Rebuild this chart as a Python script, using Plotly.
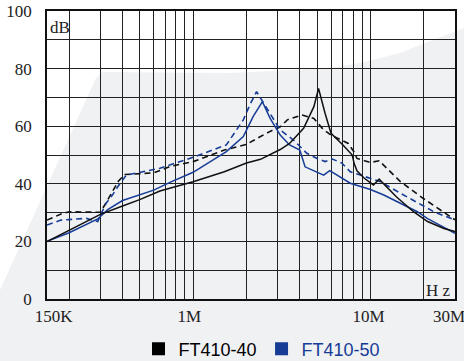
import math
import plotly.graph_objects as go

# ---------------- data ----------------
f40_solid = [150e3, 200e3, 300e3, 400e3, 500e3, 650e3, 1e6, 1.5e6, 2e6, 2.4e6, 2.7e6, 3.1e6,
             3.5e6, 4.2e6, 4.8e6, 5.1e6, 5.55e6, 6e6, 7e6, 7.9e6, 8.1e6, 8.4e6, 9.2e6, 10.4e6,
             11.2e6, 14e6, 17.5e6, 21e6, 26e6, 30e6]
db40_solid = [19.9, 23.8, 29.4, 32.3, 34.5, 37.5, 40.7, 44.2, 47.2, 48.5, 50.0, 51.9,
              54.0, 59.3, 66.8, 73.1, 64.5, 57.5, 53.5, 50.0, 47.0, 44.5, 42.0, 39.6,
              41.6, 35.5, 30.3, 26.9, 24.5, 23.4]

f40_dash = [150e3, 180e3, 200e3, 300e3, 320e3, 353e3, 380e3, 410e3, 500e3, 600e3, 740e3, 1e6,
            1.5e6, 2e6, 2.4e6, 2.7e6, 3.1e6, 3.4e6, 4.1e6, 4.8e6, 5.4e6, 6e6, 7.5e6, 8.1e6,
            8.4e6, 10e6, 11.2e6, 14.8e6, 20e6, 28.4e6, 30e6]
db40_dash = [27.4, 29.5, 30.3, 30.1, 33.0, 37.8, 41.0, 43.2, 43.6, 43.8, 46.0, 47.7,
             51.7, 53.7, 56.4, 58.1, 59.8, 62.2, 63.9, 62.7, 59.0, 56.9, 54.0, 51.0,
             48.8, 47.4, 48.0, 40.7, 34.8, 28.6, 27.5]

f50_solid = [150e3, 200e3, 290e3, 300e3, 330e3, 400e3, 600e3, 740e3, 1e6, 1.54e6, 1.92e6,
             2.18e6, 2.46e6, 2.72e6, 3.1e6, 3.5e6, 4e6, 4.28e6, 5e6, 5.45e6, 5.9e6, 6.3e6,
             7.7e6, 10e6, 11.9e6, 18.4e6, 20.9e6, 26e6, 30e6]
db50_solid = [20.0, 23.0, 27.8, 28.6, 31.0, 34.2, 37.8, 40.5, 44.0, 51.2, 56.4,
              63.3, 68.5, 62.7, 56.9, 53.5, 51.7, 45.9, 44.2, 43.0, 44.6, 43.5,
              40.2, 38.0, 36.1, 30.3, 28.0, 24.9, 22.8]

f50_dash = [150e3, 180e3, 250e3, 290e3, 300e3, 323e3, 350e3, 376e3, 420e3, 500e3, 650e3, 1e6,
            1.54e6, 1.92e6, 2.09e6, 2.28e6, 2.5e6, 2.72e6, 3.1e6, 3.68e6, 4.38e6, 5e6, 5.56e6,
            6.1e6, 6.9e6, 7.7e6, 10e6, 11.4e6, 14.8e6, 22.8e6, 30e6]
db50_dash = [25.7, 27.4, 28.0, 26.9, 29.0, 33.2, 36.0, 39.0, 43.0, 44.0, 45.4, 49.2,
             53.5, 62.2, 67.4, 72.0, 68.0, 64.5, 58.7, 55.2, 50.6, 48.8, 47.7,
             48.6, 47.2, 44.2, 42.0, 40.7, 36.7, 30.3, 27.4]

NB = "\u00a0"
x_tickvals = [150e3, 200e3, 300e3, 400e3, 500e3, 600e3, 700e3, 800e3, 900e3, 1e6,
              2e6, 3e6, 4e6, 5e6, 6e6, 7e6, 8e6, 9e6, 10e6, 20e6, 30e6]
x_ticktext = [NB * 6 + "150K", "", "", "", "", "", "", "", "", NB + "1M",
              "", "", "", "", "", "", "", "", NB * 2 + "10M", "", "30M"]
y_tickvals = [0, 10, 20, 30, 40, 50, 60, 70, 80, 90, 100]
y_ticktext = ["0", "", "20", "", "40", "", "60", "", "80", "", "100"]

series_names = ["FT410-40", "FT410-50"]
BLACK = "#111111"
BLUE = "#163c96"

# ---------------- figure ----------------
W, H = 464, 361
ML, MR, MT, MB = 47, 9, 11, 62
fig = go.Figure()

fig.add_trace(go.Scatter(x=f40_dash, y=db40_dash, mode="lines", showlegend=False,
                         line=dict(color=BLACK, width=1.6, dash="6px,4px")))
fig.add_trace(go.Scatter(x=f50_dash, y=db50_dash, mode="lines", showlegend=False,
                         line=dict(color=BLUE, width=1.6, dash="6px,4px")))
fig.add_trace(go.Scatter(x=f50_solid, y=db50_solid, mode="lines", showlegend=False,
                         line=dict(color=BLUE, width=1.5)))
fig.add_trace(go.Scatter(x=f40_solid, y=db40_solid, mode="lines", showlegend=False,
                         line=dict(color=BLACK, width=1.5)))

# legend entries
fig.add_trace(go.Scatter(x=[None], y=[None], mode="markers", name=series_names[0],
                         marker=dict(symbol="square", size=13, color="#000000")))
fig.add_trace(go.Scatter(x=[None], y=[None], mode="markers",
                         name=f"<span style='color:{BLUE}'>{series_names[1]}</span>",
                         marker=dict(symbol="square", size=13, color=BLUE)))

# light grey watermark background shape (pixel -> paper)
pw, ph = W - ML - MR, H - MT - MB
def P(px, py):
    return (px - ML) / pw, (H - MB - py) / ph
pts = [(0, 290), (96, 78), (102, 72), (230, 73), (330, 68), (365, 62), (400, 53),
       (430, 41), (464, 28), (464, 361), (0, 361)]
path = "M " + " L ".join(f"{P(a, b)[0]:.4f},{P(a, b)[1]:.4f}" for a, b in pts) + " Z"
fig.add_shape(type="path", path=path, xref="paper", yref="paper", layer="below",
              fillcolor="#f0f1f3", line=dict(width=0))

serif = "Liberation Serif, Times New Roman, serif"
fig.add_annotation(text="dB", xref="paper", yref="paper", x=P(48, 0)[0], y=P(0, 27)[1],
                   xanchor="left", yanchor="middle", showarrow=False,
                   font=dict(family=serif, size=17, color="#222"))
fig.add_annotation(text="H z", xref="paper", yref="paper", x=P(453, 0)[0], y=P(0, 290)[1],
                   xanchor="right", yanchor="middle", showarrow=False,
                   font=dict(family=serif, size=17, color="#222"))

grid = "#222222"
fig.update_xaxes(type="log", range=[math.log10(150e3), math.log10(30e6)],
                 tickvals=x_tickvals, ticktext=x_ticktext, ticks="",
                 showgrid=True, gridcolor=grid, gridwidth=1.2,
                 showline=True, linecolor="#111", linewidth=1.5, mirror=True,
                 zeroline=False, tickfont=dict(family=serif, size=17, color="#222"),
                 ticklabelstandoff=1, ticklabelshift=-6,
                 automargin=False, ticklabeloverflow="allow")
fig.update_yaxes(range=[0, 100], tickvals=y_tickvals, ticktext=y_ticktext, ticks="",
                 showgrid=True, gridcolor=grid, gridwidth=1.2,
                 showline=True, linecolor="#111", linewidth=1.5, mirror=True,
                 zeroline=False, tickfont=dict(family=serif, size=17, color="#222"),
                 ticklabelstandoff=10, automargin=False)

fig.update_layout(width=W, height=H,
                  margin=dict(l=ML, r=MR, t=MT, b=MB, autoexpand=False),
                  paper_bgcolor="white", plot_bgcolor="rgba(0,0,0,0)",
                  showlegend=True,
                  legend=dict(orientation="h", xref="container", yref="container",
                              x=262 / W, xanchor="center",
                              y=(H - 349) / H, yanchor="middle",
                              font=dict(family="Liberation Sans, Arial, sans-serif", size=18, color="#000"),
                              bgcolor="rgba(0,0,0,0)", itemwidth=30))

fig.write_html("out.html")
